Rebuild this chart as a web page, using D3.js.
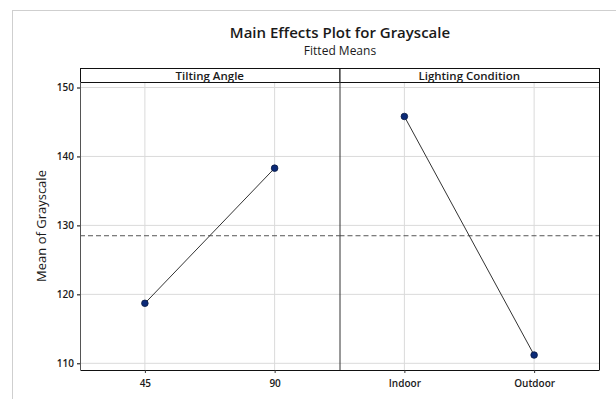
<!DOCTYPE html>
<html>
<head>
<meta charset="utf-8">
<script src="https://cdn.jsdelivr.net/npm/d3@7"></script>
<style>
  body { margin: 0; background: #fff; }
  text { font-family: "Open Sans", "Noto Sans", sans-serif; fill: #1a1a1a; }
</style>
</head>
<body>
<figure id="main-effects" style="margin:0"></figure>
<script>
// factors and fitted means
const panels = ["Tilting Angle", "Lighting Condition"];
const tiltLevels = ["45", "90"];
const tiltMeans = [118.7, 138.3];
const lightLevels = ["Indoor", "Outdoor"];
const lightMeans = [145.8, 111.2];
const grandMean = 128.5;
const yTicks = [110, 120, 130, 140, 150];

const width = 616, height = 399;
const margin = {top: 82, right: 17, bottom: 29, left: 80};
const stripH = 14;

const svg = d3.select("figure#main-effects")
  .append("svg")
  .attr("width", width)
  .attr("height", height);

// outer frame
svg.append("rect")
  .attr("x", 12.5).attr("y", 10.5)
  .attr("width", 640).attr("height", 420)
  .attr("fill", "none").attr("stroke", "#cfcfcf");

svg.append("text")
  .attr("x", 340).attr("y", 38)
  .attr("text-anchor", "middle")
  .style("font-size", "15px").style("font-weight", 600)
  .text("Main Effects Plot for Grayscale");
svg.append("text")
  .attr("x", 340).attr("y", 55)
  .attr("text-anchor", "middle")
  .style("font-size", "12px")
  .text("Fitted Means");

const plotLeft = margin.left, plotRight = width - margin.right;
const plotTop = margin.top, plotBottom = height - margin.bottom;

const yScale = d3.scaleLinear()
  .domain([110, 150])
  .range([363.3, 87.5]);

const panelX = d3.scaleBand()
  .domain(panels)
  .range([plotLeft, plotRight]);

// horizontal gridlines
svg.append("g")
  .selectAll("line")
  .data(yTicks)
  .enter().append("line")
  .attr("x1", plotLeft).attr("x2", plotRight)
  .attr("y1", d => yScale(d)).attr("y2", d => yScale(d))
  .attr("stroke", "#dadada").attr("stroke-width", 1);

const series = [
  {panel: panels[0], levels: tiltLevels, means: tiltMeans},
  {panel: panels[1], levels: lightLevels, means: lightMeans}
];

series.forEach(s => {
  const x0 = panelX(s.panel);
  const xScale = d3.scalePoint()
    .domain(s.levels)
    .range([x0, x0 + panelX.bandwidth()])
    .padding(0.5);

  // vertical gridlines
  svg.append("g")
    .selectAll("line")
    .data(s.levels)
    .enter().append("line")
    .attr("x1", d => xScale(d)).attr("x2", d => xScale(d))
    .attr("y1", plotTop).attr("y2", plotBottom)
    .attr("stroke", "#dadada");

  // x axis
  const xAxis = svg.append("g")
    .attr("transform", `translate(0,${plotBottom})`)
    .call(d3.axisBottom(xScale).tickSize(3).tickSizeOuter(0));
  xAxis.select(".domain").attr("stroke", "#111");
  xAxis.selectAll(".tick line").attr("stroke", "#333");
  xAxis.selectAll("text")
    .attr("dy", "1.05em")
    .style("font-size", "10px").style("font-weight", 600)
    .style("font-family", "\"Open Sans\", sans-serif").attr("fill", "#1a1a1a");

  // grand mean reference
  svg.append("line")
    .attr("x1", x0).attr("x2", x0 + panelX.bandwidth())
    .attr("y1", yScale(grandMean)).attr("y2", yScale(grandMean))
    .attr("stroke", "#555").attr("stroke-dasharray", "5,3");

  const pts = s.levels.map((l, i) => [xScale(l), yScale(s.means[i])]);
  svg.append("path")
    .attr("d", d3.line()(pts))
    .attr("fill", "none").attr("stroke", "#333").attr("stroke-width", 1);
  svg.append("g")
    .selectAll("circle")
    .data(pts)
    .enter().append("circle")
    .attr("cx", d => d[0]).attr("cy", d => d[1]).attr("r", 3.3)
    .attr("fill", "#0b2a78").attr("stroke", "#0a1a40").attr("stroke-width", 0.8);

  // strip header
  svg.append("rect")
    .attr("x", x0 + 0.5).attr("y", plotTop - stripH + 0.5)
    .attr("width", panelX.bandwidth()).attr("height", stripH)
    .attr("fill", "#fff").attr("stroke", "#111");
  svg.append("text")
    .attr("x", x0 + panelX.bandwidth() / 2).attr("y", plotTop - 2.5)
    .attr("text-anchor", "middle")
    .style("font-size", "11.5px").style("font-weight", 600)
    .text(s.panel);
});

// panel divider and right border
svg.append("line")
  .attr("x1", panelX(panels[1]) + 0.5).attr("x2", panelX(panels[1]) + 0.5)
  .attr("y1", plotTop).attr("y2", plotBottom)
  .attr("stroke", "#333");
svg.append("line")
  .attr("x1", plotRight + 0.5).attr("x2", plotRight + 0.5)
  .attr("y1", plotTop).attr("y2", plotBottom)
  .attr("stroke", "#111");

// y axis
const yAxis = svg.append("g")
  .attr("transform", `translate(${plotLeft},0)`)
  .call(d3.axisLeft(yScale).tickValues(yTicks).tickSize(3).tickSizeOuter(0));
yAxis.select(".domain").attr("stroke", "#555")
  .attr("d", `M0.5,${plotTop}V${plotBottom}`);
yAxis.selectAll("text")
  .style("font-size", "10px").style("font-weight", 600)
  .style("font-family", "\"Open Sans\", sans-serif").attr("fill", "#1a1a1a");

svg.append("text")
  .attr("transform", `translate(46,${(plotTop + plotBottom) / 2}) rotate(-90)`)
  .attr("text-anchor", "middle")
  .style("font-size", "13px")
  .text("Mean of Grayscale");
</script>
</body>
</html>
